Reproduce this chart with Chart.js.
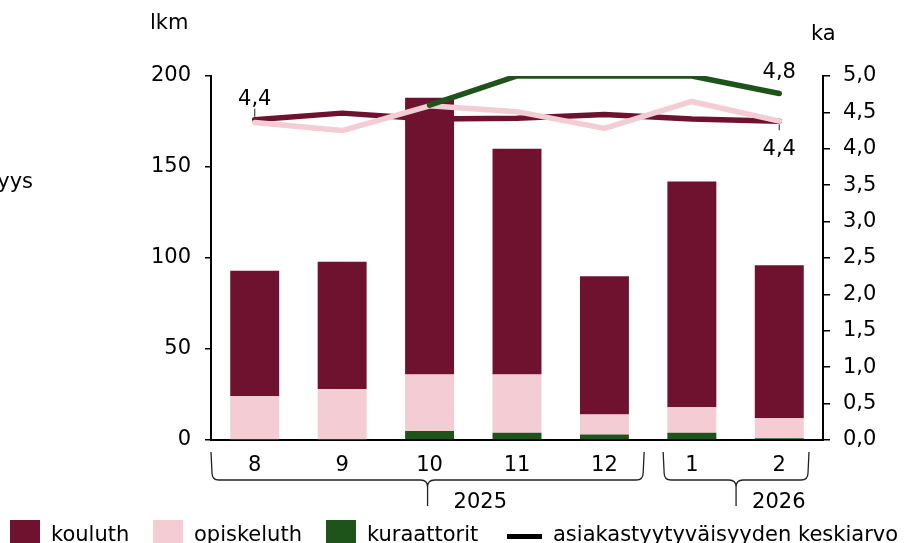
<!DOCTYPE html>
<html>
<head>
<meta charset="utf-8">
<script src="https://cdn.jsdelivr.net/npm/chart.js@4.4.1/dist/chart.umd.min.js"></script>
<style>
  html, body { margin: 0; padding: 0; overflow: hidden; background: #fff; }
</style>
</head>
<body>
<canvas id="kaavio" width="910" height="543"></canvas>
<script>
const kuukaudet = ["8", "9", "10", "11", "12", "1", "2"];
const vuodet = ["2025", "2026"];
const vuosiAlku = [0, 5];
const vuosiLoppu = [4, 6];

// käyntimäärät (lkm)
const kouluth = [69, 70, 152, 124, 76, 124, 84];
const opiskeluth = [24, 28, 31, 32, 11, 14, 11];
const kuraattorit = [0, 0, 5, 4, 3, 4, 1];

// asiakastyytyväisyyden keskiarvo (ka)
const kaKouluth = [4.40, 4.49, 4.41, 4.42, 4.47, 4.41, 4.38];
const kaOpiskeluth = [4.36, 4.25, 4.59, 4.51, 4.28, 4.65, 4.38];
const kaKuraattorit = [null, null, 4.60, 5.0, 5.0, 5.0, 4.76];

const vasenTicks = [0, 50, 100, 150, 200];
const oikeaTicks = [0, 0.5, 1, 1.5, 2, 2.5, 3, 3.5, 4, 4.5, 5];

const viininpun = "#6e1230";
const vaaleanpun = "#f3ccd4";
const vihrea = "#1e5419";
const fontti = "'DejaVu Sans', Verdana, sans-serif";

const pilkku = (v) => v.toFixed(1).replace(".", ",");

// arvolaput: sarja, indeksi, ylös vai alas
const laput = [
  { sarja: 3, i: 0, ylos: true, viiva: true },
  { sarja: 5, i: 6, ylos: true, viiva: false },
  { sarja: 4, i: 6, ylos: false, viiva: true },
];

function sulku(ctx, x1, x2, xm, yt, yb, yk) {
  const r = 7;
  ctx.beginPath();
  ctx.moveTo(x1 - 1, yt);
  ctx.lineTo(x1, yb - r);
  ctx.quadraticCurveTo(x1, yb, x1 + r, yb);
  ctx.lineTo(xm - r, yb);
  ctx.quadraticCurveTo(xm, yb, xm, yb + r);
  ctx.lineTo(xm, yk);
  ctx.moveTo(xm, yb + r);
  ctx.quadraticCurveTo(xm, yb, xm + r, yb);
  ctx.lineTo(x2 - r, yb);
  ctx.quadraticCurveTo(x2, yb, x2, yb - r);
  ctx.lineTo(x2 + 1, yt);
  ctx.stroke();
}

const lisat = {
  id: "lisat",
  afterDraw(chart) {
    const ctx = chart.ctx;
    const x = chart.scales.x;
    const puoli = (x.getPixelForValue(1) - x.getPixelForValue(0)) / 2;
    ctx.save();
    ctx.fillStyle = "#000";
    ctx.font = "21px " + fontti;
    ctx.textBaseline = "alphabetic";

    // akselien otsikot
    ctx.textAlign = "left";
    ctx.fillText("lkm", 150, 29);
    ctx.fillText("ka", 811, 40);
    ctx.textAlign = "right";
    ctx.fillText("asiakastyytyväisyys", 33, 188);

    // vuosisulut
    ctx.strokeStyle = "#222";
    ctx.lineWidth = 1.3;
    const sisa = [[1, 5], [16, 15]];
    const tekstiSiirto = [26, 16];
    vuodet.forEach((v, k) => {
      const x1 = x.getPixelForValue(vuosiAlku[k]) - puoli + sisa[k][0];
      const x2 = x.getPixelForValue(vuosiLoppu[k]) + puoli - sisa[k][1];
      const xm = (x1 + x2) / 2;
      sulku(ctx, x1, x2, xm, 452, 480, 506);
      ctx.textAlign = "left";
      ctx.fillText(v, xm + tekstiSiirto[k], 508);
    });

    // arvolaput
    laput.forEach((l) => {
      const meta = chart.getDatasetMeta(l.sarja);
      const p = meta.data[l.i];
      const arvo = chart.data.datasets[l.sarja].data[l.i];
      ctx.textAlign = "center";
      ctx.strokeStyle = "#444";
      ctx.lineWidth = 1.2;
      if (l.ylos) {
        ctx.fillText(pilkku(arvo), p.x, p.y - 15);
        if (l.viiva) {
          ctx.beginPath();
          ctx.moveTo(p.x, p.y - 11);
          ctx.lineTo(p.x, p.y - 3);
          ctx.stroke();
        }
      } else {
        ctx.fillText(pilkku(arvo), p.x, p.y + 34);
        ctx.beginPath();
        ctx.moveTo(p.x, p.y + 3);
        ctx.lineTo(p.x, p.y + 9);
        ctx.stroke();
      }
    });

    // selite
    const selite = [
      ["kouluth", viininpun, 10],
      ["opiskeluth", vaaleanpun, 153],
      ["kuraattorit", vihrea, 326],
    ];
    ctx.textAlign = "left";
    selite.forEach(([nimi, vari, sx]) => {
      ctx.fillStyle = vari;
      ctx.fillRect(sx, 520, 30, 30);
      ctx.fillStyle = "#000";
      ctx.fillText(nimi, sx + 41, 541);
    });
    ctx.fillRect(507, 534, 35, 5);
    ctx.fillText("asiakastyytyväisyyden keskiarvo", 553, 541);
    ctx.restore();
  },
};

new Chart(document.getElementById("kaavio"), {
  type: "bar",
  data: {
    labels: kuukaudet,
    datasets: [
      { label: "kuraattorit", data: kuraattorit, backgroundColor: vihrea, order: 4 },
      { label: "opiskeluth", data: opiskeluth, backgroundColor: vaaleanpun, order: 4 },
      { label: "kouluth", data: kouluth, backgroundColor: viininpun, order: 4 },
      {
        type: "line", label: "ka kouluth", data: kaKouluth, yAxisID: "y2",
        borderColor: viininpun, borderWidth: 5.5, pointRadius: 0, order: 3,
        borderCapStyle: "round", borderJoinStyle: "round",
      },
      {
        type: "line", label: "ka opiskeluth", data: kaOpiskeluth, yAxisID: "y2",
        borderColor: vaaleanpun, borderWidth: 5.5, pointRadius: 0, order: 2,
        borderCapStyle: "round", borderJoinStyle: "round",
      },
      {
        type: "line", label: "ka kuraattorit", data: kaKuraattorit, yAxisID: "y2",
        borderColor: vihrea, borderWidth: 5.5, pointRadius: 0, order: 1,
        borderCapStyle: "round", borderJoinStyle: "round",
      },
    ],
  },
  options: {
    responsive: false,
    animation: false,
    devicePixelRatio: 1,
    layout: { padding: { top: 76, bottom: 43, left: 0, right: 0 } },
    datasets: { bar: { barPercentage: 0.56, categoryPercentage: 1 } },
    plugins: { legend: { display: false }, tooltip: { enabled: false } },
    scales: {
      x: {
        stacked: true,
        grid: { display: false },
        border: { display: true, color: "#000", width: 2 },
        ticks: { color: "#000", font: { family: fontti, size: 21 }, padding: 5 },
        afterFit: (s) => { s.height = 60; },
      },
      y: {
        stacked: true,
        min: 0,
        max: 200,
        afterBuildTicks: (s) => { s.ticks = vasenTicks.map((v) => ({ value: v })); },
        grid: { drawOnChartArea: false, drawTicks: true, tickLength: 6, color: "#000", lineWidth: 1.5 },
        border: { display: true, color: "#000", width: 2 },
        ticks: { color: "#000", font: { family: fontti, size: 21 }, padding: 14 },
        afterFit: (s) => { s.width = 211; },
      },
      y2: {
        position: "right",
        min: 0,
        max: 5,
        afterBuildTicks: (s) => { s.ticks = oikeaTicks.map((v) => ({ value: v })); },
        grid: { drawOnChartArea: false, drawTicks: true, tickLength: 7, color: "#000", lineWidth: 1.5 },
        border: { display: true, color: "#000", width: 2 },
        ticks: { color: "#000", font: { family: fontti, size: 21 }, padding: 13, callback: (v) => pilkku(v) },
        afterFit: (s) => { s.width = 87; },
      },
    },
  },
  plugins: [lisat],
});
</script>
</body>
</html>
